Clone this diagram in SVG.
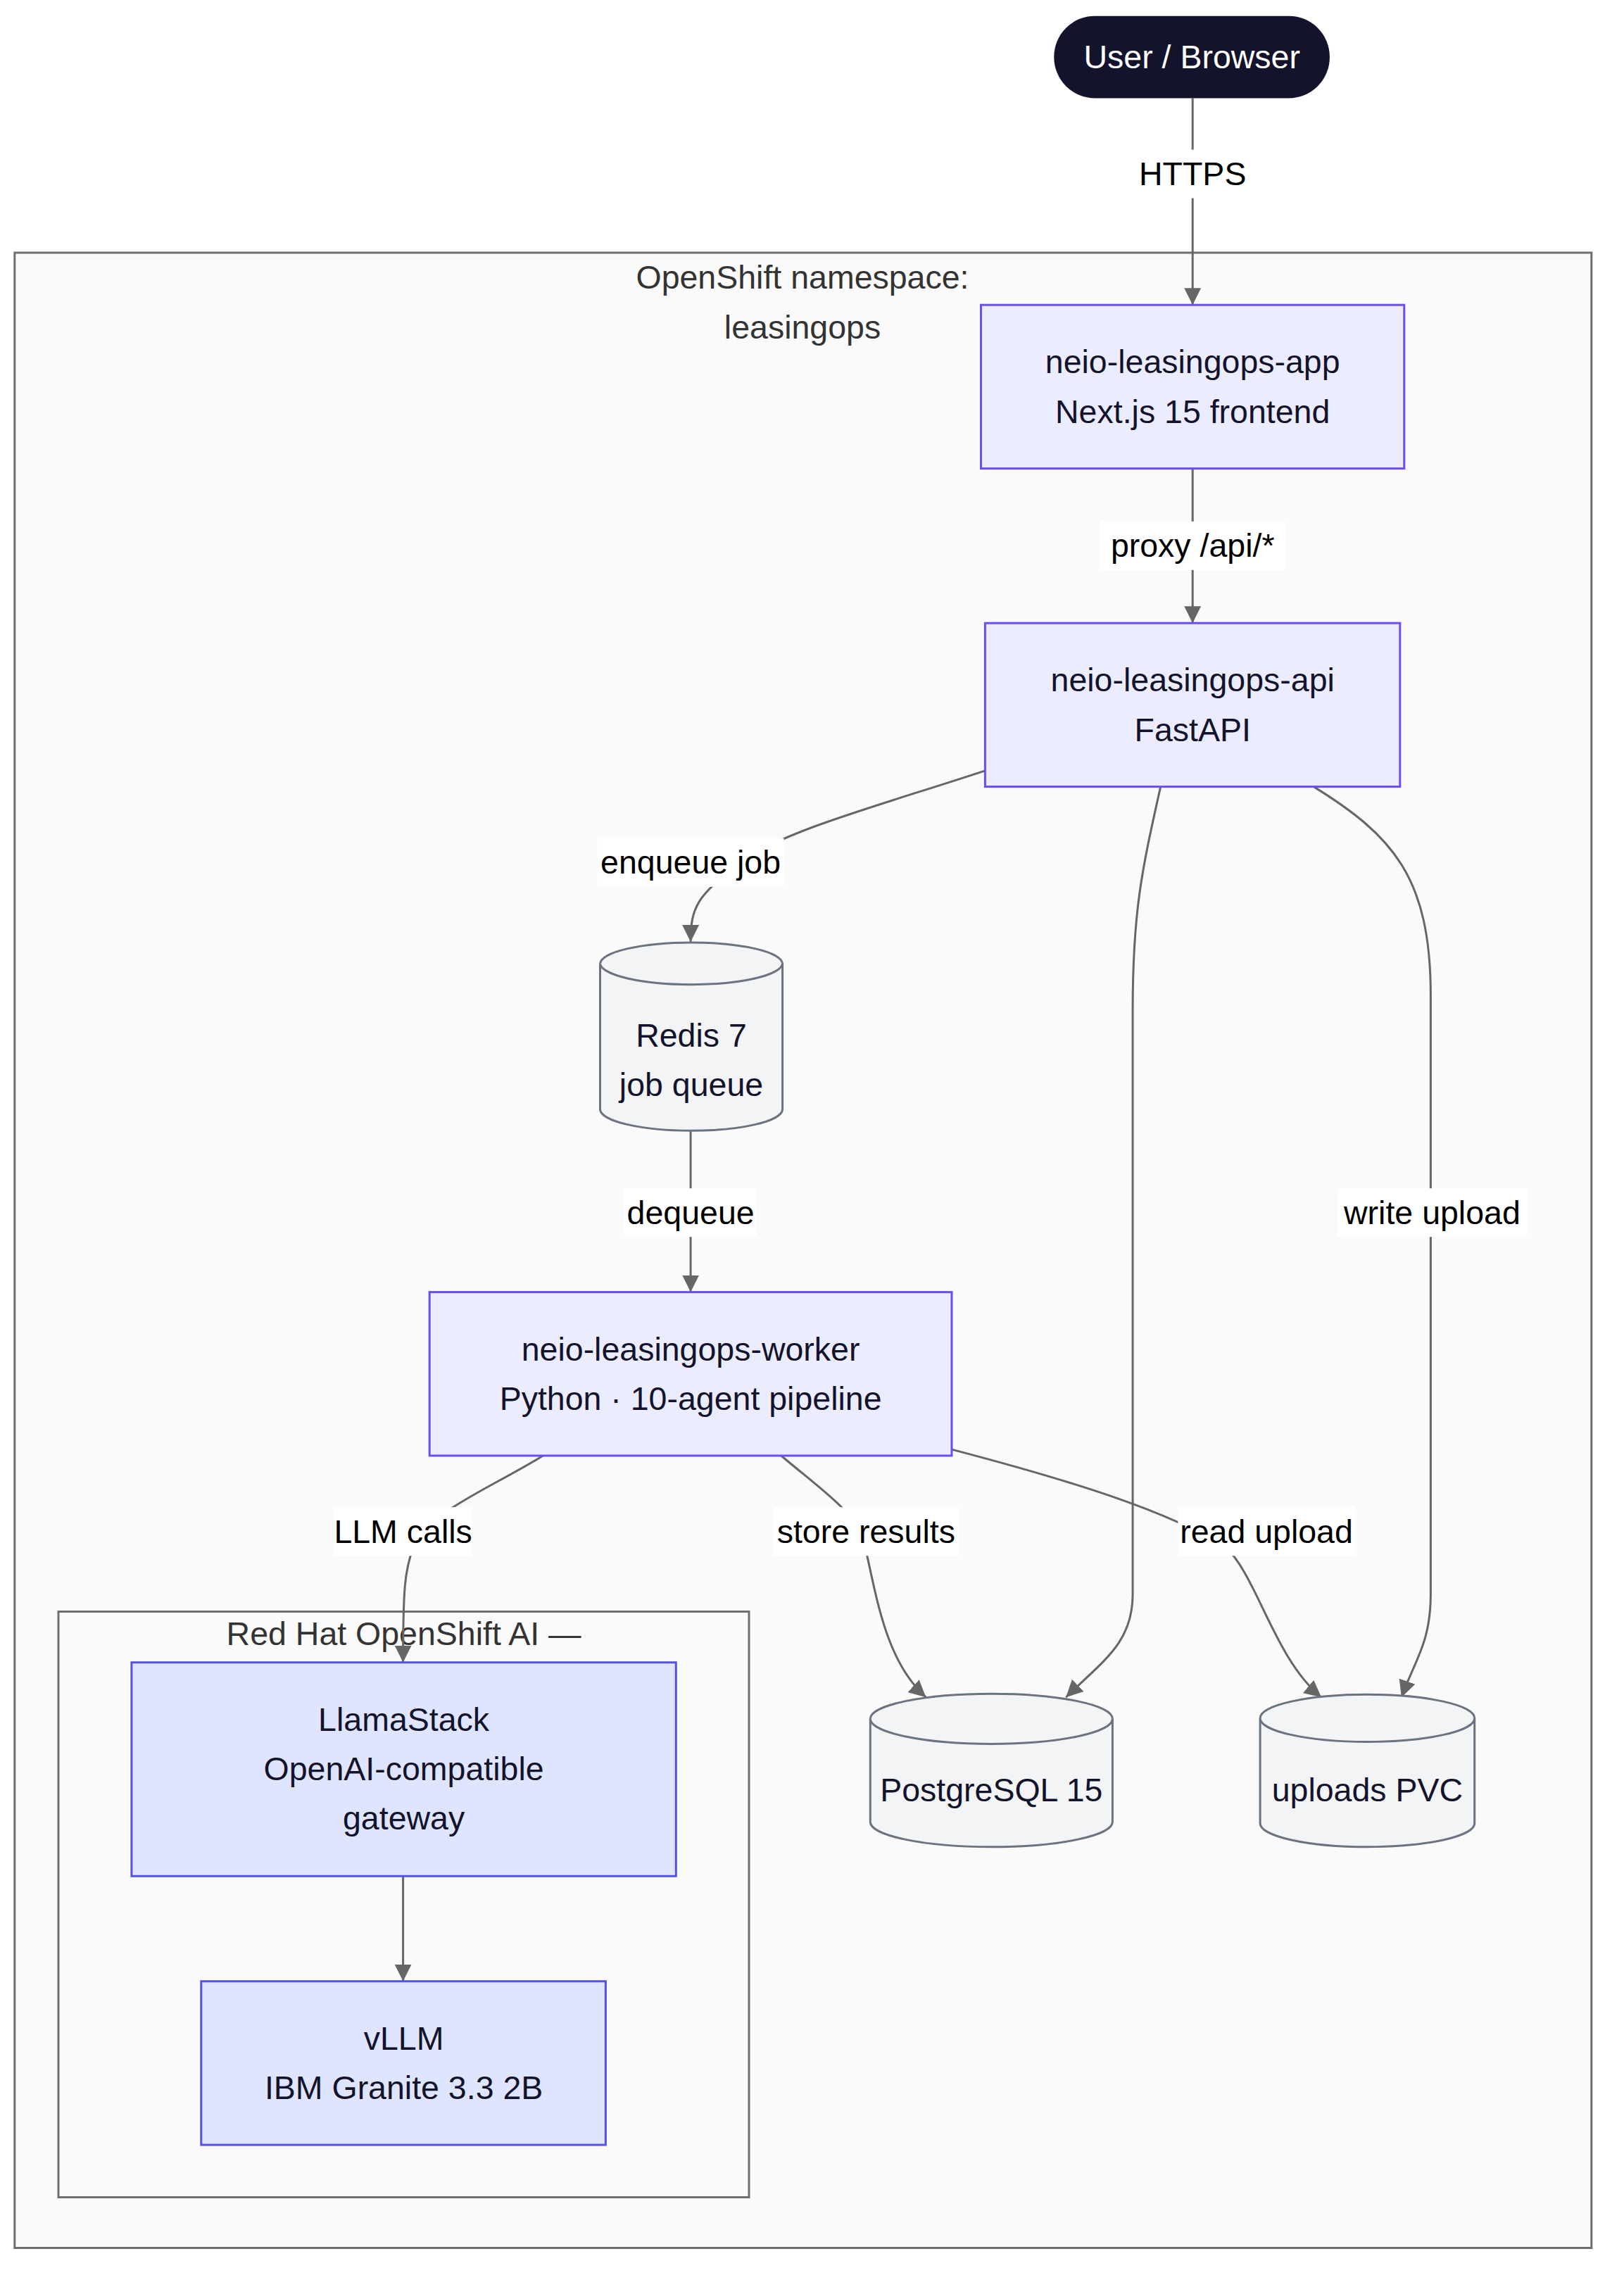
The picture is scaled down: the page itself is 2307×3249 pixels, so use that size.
<svg xmlns="http://www.w3.org/2000/svg" width="2307" height="3249" viewBox="0 0 2307 3249">
<defs>
<style>
text{font-family:"Liberation Sans",Arial,sans-serif;font-size:46.5px;text-anchor:middle;dominant-baseline:central}
.cluster{fill:#FAFAFA;stroke:#6E6E6E;stroke-width:3}
.ctitle{fill:#333333}
.node{fill:#ECECFF;stroke:#6A4DF5;stroke-width:3}
.ai{fill:#E0E5FF;stroke:#5552E8;stroke-width:3}
.db{fill:#F3F4F6;stroke:#6B7280;stroke-width:3}
.nt{fill:#13132B}
.edge{fill:none;stroke:#666666;stroke-width:3}
.lbg{fill:#FFFFFF}
.lt{fill:#000000}
</style>
<marker id="arr" markerUnits="userSpaceOnUse" markerWidth="24" markerHeight="24" refX="24" refY="12" orient="auto" viewBox="0 0 24 24">
<path d="M0,0 L24,12 L0,24 z" fill="#666666"/>
</marker>
</defs>
<rect width="2307" height="3249" fill="#FFFFFF"/>

<g id="cluster-namespace">
<rect class="cluster" x="20.8" y="359" width="2240" height="2834.5"/>
<text class="ctitle" x="1140" y="393.6">OpenShift namespace:</text>
<text class="ctitle" x="1140" y="464.8">leasingops</text>
</g>
<g id="cluster-rhoai">
<rect class="cluster" x="83" y="2289.5" width="981" height="832"/>
<text class="ctitle" x="573.6" y="2321">Red Hat OpenShift AI —</text>
</g>

<g id="connectors">
<path class="edge" d="M1694.2,139.4 L1694.2,433.2" marker-end="url(#arr)"/>
<path class="edge" d="M1694.2,665.6 L1694.2,885.2" marker-end="url(#arr)"/>
<path class="edge" d="M1399.4,1094.8 C1246.1,1145.3 1117.6,1178.9 1056.3,1222.4 C989,1270.9 981.1,1290.6 981.1,1338.1" marker-end="url(#arr)"/>
<path class="edge" d="M981.1,1607.1 L981.1,1835.6" marker-end="url(#arr)"/>
<path class="edge" d="M1648.7,1117.6 C1622,1236.3 1609.1,1295.6 1609.1,1434 L1609.1,2264.8 C1609.1,2334 1567.6,2358.8 1514.2,2411.2" marker-end="url(#arr)"/>
<path class="edge" d="M1866.2,1117.6 C1978,1186.8 2032.4,1246.1 2032.4,1414.3 L2032.4,2264.8 C2032.4,2334 2009.6,2358.8 1990.9,2411.2" marker-end="url(#arr)"/>
<path class="edge" d="M771.4,2068 C692.3,2116.5 608.2,2148.1 587.5,2197.6 C574.6,2230.2 572.6,2259.9 572.6,2361.7" marker-end="url(#arr)"/>
<path class="edge" d="M1109.7,2068 C1167,2116.5 1214.5,2148.1 1226.4,2187.7 C1244.2,2256.9 1254.1,2355.8 1315.4,2411.2" marker-end="url(#arr)"/>
<path class="edge" d="M1352,2059.1 C1533,2106.6 1661.5,2148.1 1740.6,2197.6 C1785.1,2237.1 1809.9,2355.8 1877.1,2411.2" marker-end="url(#arr)"/>
<path class="edge" d="M572.6,2665.4 L572.6,2814.7" marker-end="url(#arr)"/>
<g id="edge-labels">
<rect class="lbg" x="1615" y="212.6" width="158" height="69"/>
<text class="lt" x="1694.2" y="247.3">HTTPS</text>
<rect class="lbg" x="1562.6" y="740.8" width="263" height="69"/>
<text class="lt" x="1694.2" y="775.4">proxy /api/*</text>
<rect class="lbg" x="848.6" y="1190.8" width="265" height="69"/>
<text class="lt" x="981.1" y="1225.4">enqueue job</text>
<rect class="lbg" x="887.1" y="1688.2" width="188" height="69"/>
<text class="lt" x="981.1" y="1722.8">dequeue</text>
<rect class="lbg" x="1899.9" y="1688.2" width="269" height="69"/>
<text class="lt" x="2034.4" y="1722.8">write upload</text>
<rect class="lbg" x="474.7" y="2141.2" width="196" height="69"/>
<text class="lt" x="572.6" y="2175.8">LLM calls</text>
<rect class="lbg" x="1098.8" y="2141.2" width="264" height="69"/>
<text class="lt" x="1230.3" y="2175.8">store results</text>
<rect class="lbg" x="1673.4" y="2141.2" width="251" height="69"/>
<text class="lt" x="1799" y="2175.8">read upload</text>
</g>
</g>

<g id="user">
<rect x="1497.3" y="22.7" width="391.6" height="116.7" rx="58" ry="58" fill="#13132B"/>
<text x="1693.2" y="81.1" fill="#FFFFFF">User / Browser</text>
</g>
<g id="app">
<rect class="node" x="1393.5" y="433.2" width="601.3" height="232.4"/>
<text class="nt" x="1694.2" y="514.3">neio-leasingops-app</text>
<text class="nt" x="1694.2" y="584.5">Next.js 15 frontend</text>
</g>
<g id="api">
<rect class="node" x="1399.4" y="885.2" width="589.4" height="232.4"/>
<text class="nt" x="1694.2" y="966.3">neio-leasingops-api</text>
<text class="nt" x="1694.2" y="1036.5">FastAPI</text>
</g>
<g id="redis">
<path class="db" d="M852.5,1368.8 A129.6,30.7 0 0 1 1111.6,1368.8 L1111.6,1576.5 A129.6,30.7 0 0 1 852.5,1576.5 Z"/>
<path class="db" d="M852.5,1368.8 A129.6,30.7 0 0 0 1111.6,1368.8" fill="none"/>
<text class="nt" x="982" y="1470.6">Redis 7</text>
<text class="nt" x="982" y="1540.9">job queue</text>
</g>
<g id="worker">
<rect class="node" x="610.2" y="1835.6" width="741.8" height="232.4"/>
<text class="nt" x="981.1" y="1916.7">neio-leasingops-worker</text>
<text class="nt" x="981.1" y="1986.9">Python · 10-agent pipeline</text>
</g>
<g id="llamastack">
<rect class="ai" x="186.9" y="2361.7" width="773.4" height="303.6"/>
<text class="nt" x="573.6" y="2442.8">LlamaStack</text>
<text class="nt" x="573.6" y="2513">OpenAI-compatible</text>
<text class="nt" x="573.6" y="2583.3">gateway</text>
</g>
<g id="vllm">
<rect class="ai" x="285.8" y="2814.7" width="574.6" height="232.4"/>
<text class="nt" x="573.6" y="2895.8">vLLM</text>
<text class="nt" x="573.6" y="2966">IBM Granite 3.3 2B</text>
</g>
<g id="postgres">
<path class="db" d="M1236.3,2441.8 A172,35.6 0 0 1 1580.4,2441.8 L1580.4,2588.2 A172,35.6 0 0 1 1236.3,2588.2 Z"/>
<path class="db" d="M1236.3,2441.8 A172,35.6 0 0 0 1580.4,2441.8" fill="none"/>
<text class="nt" x="1408.3" y="2542.7">PostgreSQL 15</text>
</g>
<g id="uploads">
<path class="db" d="M1790.1,2440.9 A152.3,33.6 0 0 1 2094.7,2440.9 L2094.7,2590.2 A152.3,33.6 0 0 1 1790.1,2590.2 Z"/>
<path class="db" d="M1790.1,2440.9 A152.3,33.6 0 0 0 2094.7,2440.9" fill="none"/>
<text class="nt" x="1942.4" y="2542.7">uploads PVC</text>
</g>
</svg>
